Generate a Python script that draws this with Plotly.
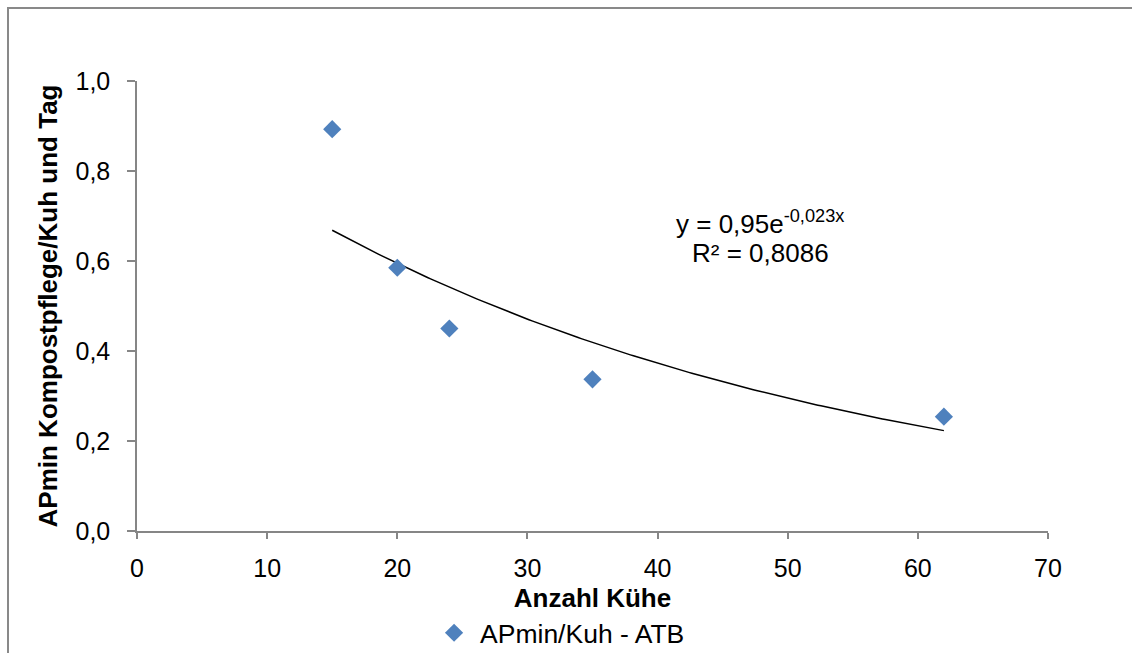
import numpy as np
import plotly.graph_objects as go

# Data
kuehe = [15, 20, 24, 35, 62]
apmin = [0.893, 0.585, 0.450, 0.337, 0.254]
series_name = "APmin/Kuh - ATB"
x_ticks = [0, 10, 20, 30, 40, 50, 60, 70]
y_ticks = [0.0, 0.2, 0.4, 0.6, 0.8, 1.0]

# Exponential trendline fitted from data (like Excel)
xa = np.array(kuehe, dtype=float)
ya = np.array(apmin, dtype=float)
b, ln_a = np.polyfit(xa, np.log(ya), 1)
a = np.exp(ln_a)
xt = np.linspace(xa.min(), xa.max(), 200)
yt = a * np.exp(b * xt)

FONT = "Liberation Sans, Arial, sans-serif"
GRAY = "#868686"

fig = go.Figure()
fig.add_trace(go.Scatter(
    x=xt, y=yt, mode="lines", line=dict(color="black", width=1.5),
    showlegend=False, hoverinfo="skip"))
fig.add_trace(go.Scatter(
    x=kuehe, y=apmin, mode="markers", name=series_name,
    marker=dict(symbol="diamond", size=14, color="#4F81BD",
                line=dict(width=0))))

fig.update_layout(
    width=1132, height=653,
    margin=dict(l=137, r=84, t=81, b=122, autoexpand=False),
    paper_bgcolor="white", plot_bgcolor="white",
    separators=",.",
    font=dict(family=FONT, size=25, color="black"),
    showlegend=True,
    legend=dict(orientation="h", x=0.3195, xanchor="left", y=-0.2267,
                yanchor="middle", font=dict(size=26.5), itemwidth=42,
                bgcolor="rgba(0,0,0,0)"),
    xaxis=dict(range=[0, 70], tickvals=x_ticks, showgrid=False, zeroline=False,
               showline=True, linecolor=GRAY, linewidth=1.5, automargin=False,
               ticks="outside", ticklen=6, tickcolor=GRAY, tickwidth=1.5,
               ticklabelstandoff=8,
               title=dict(text="<b>Anzahl Kühe</b>", font=dict(size=26), standoff=8)),
    yaxis=dict(range=[0, 1], tickvals=y_ticks, tickformat=".1f", showgrid=False,
               zeroline=False, showline=True, linecolor=GRAY, linewidth=1.5,
               automargin=False,
               ticks="outside", ticklen=8, tickcolor=GRAY, tickwidth=1.5,
               ticklabelstandoff=12,
               title=dict(text="<b>APmin Kompostpflege/Kuh und Tag</b>",
                          font=dict(size=26), standoff=10)),
    shapes=[dict(type="rect", xref="paper", yref="paper",
                 x0=-0.1416, y0=-0.4, x1=1.3, y1=1.1622,
                 line=dict(color="#898989", width=2), layer="below")],
    annotations=[
        dict(text="y = 0,95e<sup>-0,023x</sup>", xref="x", yref="y",
             x=(760 - 137) / 911 * 70, y=(531 - 222) / 450, showarrow=False,
             font=dict(size=26), xanchor="center", yanchor="middle"),
        dict(text="R² = 0,8086", xref="x", yref="y",
             x=(760 - 137) / 911 * 70, y=(531 - 253) / 450, showarrow=False,
             font=dict(size=26), xanchor="center", yanchor="middle"),
    ],
)

fig.write_html("out.html")
